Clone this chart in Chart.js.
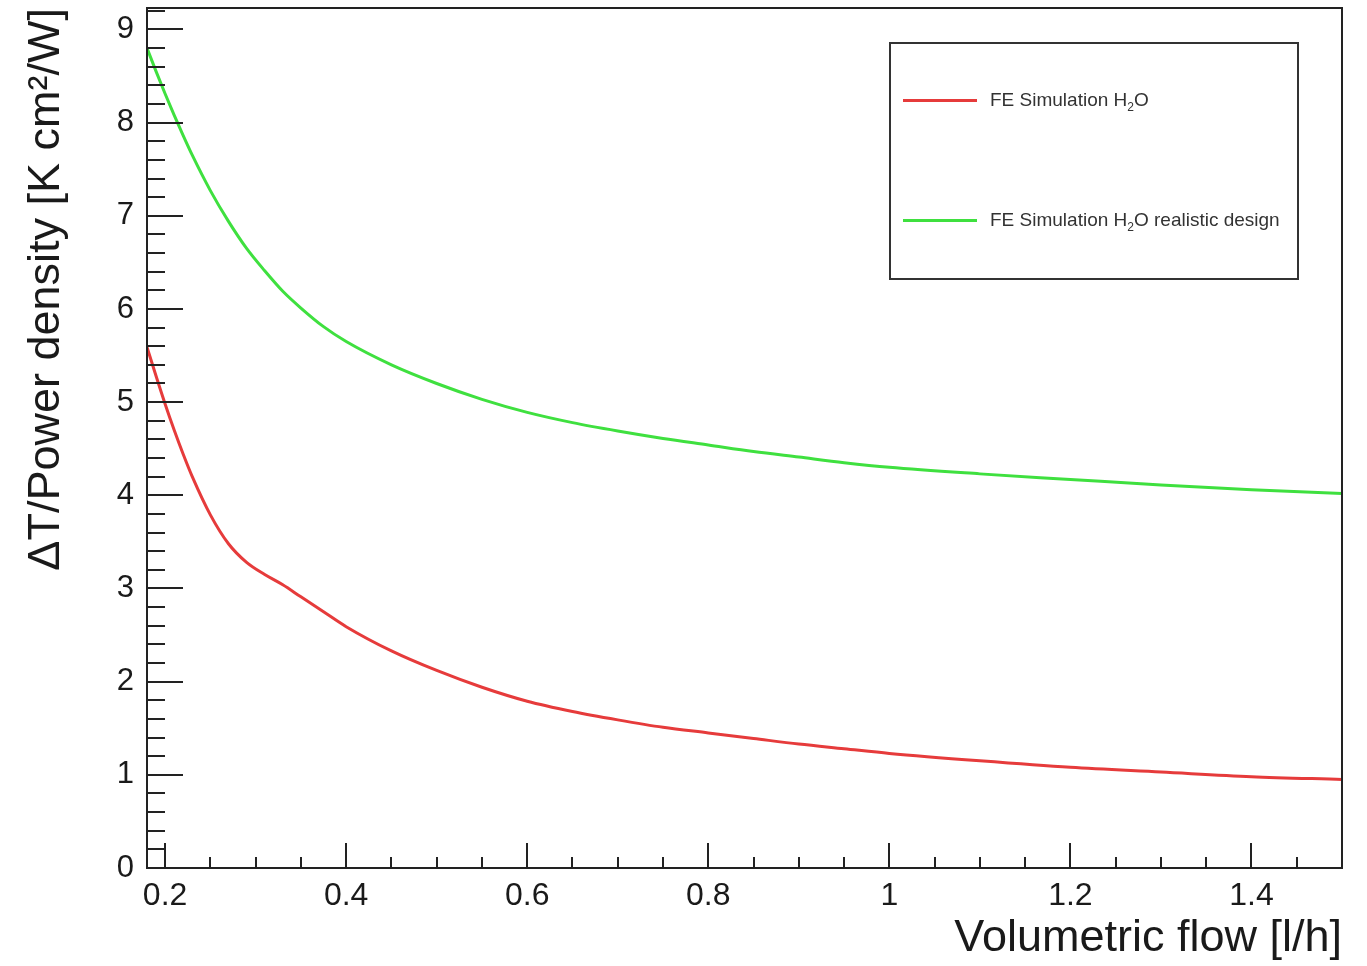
<!DOCTYPE html>
<html>
<head>
<meta charset="utf-8">
<title>Volumetric flow</title>
<script src="https://cdn.jsdelivr.net/npm/chart.js@4.4.1/dist/chart.umd.min.js"></script>
<style>
  html, body { margin: 0; padding: 0; background: #fff; }
  canvas { display: block; }
</style>
</head>
<body>
<canvas id="flowChart" width="1367" height="966"></canvas>
<script>
// flow values [l/h] shared by both simulations
const flow = [0.18, 0.19, 0.2, 0.21, 0.22, 0.23, 0.25, 0.27, 0.29, 0.31, 0.33, 0.35, 0.375,
              0.4, 0.45, 0.5, 0.55, 0.6, 0.65, 0.7, 0.75, 0.8, 0.85, 0.9, 0.95,
              1.0, 1.1, 1.2, 1.3, 1.4, 1.5];

// dT / power density [K cm2/W]
const waterSim = [5.59, 5.28, 4.98, 4.70, 4.44, 4.20, 3.79, 3.48, 3.28, 3.15, 3.04, 2.91, 2.75,
                  2.59, 2.33, 2.12, 1.94, 1.79, 1.68, 1.59, 1.51, 1.45, 1.39, 1.33, 1.28,
                  1.23, 1.15, 1.08, 1.03, 0.98, 0.95];
const waterRealistic = [8.80, 8.55, 8.31, 8.08, 7.86, 7.65, 7.27, 6.94, 6.65, 6.41, 6.19, 6.01, 5.81,
                        5.65, 5.40, 5.20, 5.03, 4.89, 4.78, 4.69, 4.61, 4.54, 4.47, 4.41, 4.35,
                        4.30, 4.23, 4.17, 4.11, 4.06, 4.02];

const seriesNames = ['FE Simulation H₂O', 'FE Simulation H₂O realistic design'];
const seriesColors = ['#e63b3b', '#3fe03f'];

const xTicks = [0.2, 0.4, 0.6, 0.8, 1, 1.2, 1.4];
const yTicks = [0, 1, 2, 3, 4, 5, 6, 7, 8, 9];

const FONT = '"Liberation Sans", Arial, Helvetica, sans-serif';
const INK = '#1a1a1a';

function toPoints(xs, ys) {
  return xs.map((x, i) => ({ x: x, y: ys[i] }));
}

// ROOT style frame with ticks pointing inwards
const frameTicks = {
  id: 'frameTicks',
  afterDraw(chart) {
    const ctx = chart.ctx;
    const a = chart.chartArea;
    const xs = chart.scales.x;
    const ys = chart.scales.y;
    ctx.save();
    ctx.strokeStyle = '#222';
    ctx.lineWidth = 2;
    ctx.strokeRect(a.left, a.top, a.right - a.left, a.bottom - a.top);

    ctx.beginPath();
    // y axis: majors every 1, minors every 0.2
    for (let k = 0; k <= 46; k++) {
      const v = k * 0.2;
      if (v > ys.max) break;
      const py = Math.round(ys.getPixelForValue(v));
      const len = (k % 5 === 0) ? 36 : 18;
      ctx.moveTo(a.left, py);
      ctx.lineTo(a.left + len, py);
    }
    // x axis: majors every 0.2, minors every 0.05
    for (let k = 4; k <= 30; k++) {
      const v = k * 0.05;
      if (v > xs.max + 1e-9) break;
      const px = Math.round(xs.getPixelForValue(v));
      const len = (k % 4 === 0) ? 25 : 11;
      ctx.moveTo(px, a.bottom);
      ctx.lineTo(px, a.bottom - len);
    }
    ctx.stroke();
    ctx.restore();
  }
};

// legend box, H2O with a real subscript
const rootLegend = {
  id: 'rootLegend',
  afterDraw(chart) {
    const ctx = chart.ctx;
    const box = { x: 890, y: 43, w: 408, h: 236 };
    ctx.save();
    ctx.fillStyle = '#fff';
    ctx.fillRect(box.x, box.y, box.w, box.h);
    ctx.strokeStyle = '#333';
    ctx.lineWidth = 2;
    ctx.strokeRect(box.x, box.y, box.w, box.h);

    const rows = [100.5, 220.5];
    chart.data.datasets.forEach((ds, i) => {
      const y = rows[i];
      ctx.strokeStyle = ds.borderColor;
      ctx.lineWidth = 3;
      ctx.beginPath();
      ctx.moveTo(903, y);
      ctx.lineTo(977, y);
      ctx.stroke();

      ctx.fillStyle = '#333';
      ctx.textBaseline = 'middle';
      ctx.textAlign = 'left';
      const parts = ds.label.split('₂');
      let x = 990;
      ctx.font = '19px ' + FONT;
      ctx.fillText(parts[0], x, y);
      x += ctx.measureText(parts[0]).width;
      ctx.font = '12px ' + FONT;
      ctx.fillText('2', x, y + 7);
      x += ctx.measureText('2').width;
      ctx.font = '19px ' + FONT;
      ctx.fillText(parts[1], x, y);
    });
    ctx.restore();
  }
};

new Chart(document.getElementById('flowChart').getContext('2d'), {
  type: 'scatter',
  data: {
    datasets: [
      {
        label: seriesNames[0],
        data: toPoints(flow, waterSim),
        borderColor: seriesColors[0],
        backgroundColor: seriesColors[0],
        borderWidth: 3,
        showLine: true,
        pointRadius: 0,
        cubicInterpolationMode: 'monotone'
      },
      {
        label: seriesNames[1],
        data: toPoints(flow, waterRealistic),
        borderColor: seriesColors[1],
        backgroundColor: seriesColors[1],
        borderWidth: 3,
        showLine: true,
        pointRadius: 0,
        cubicInterpolationMode: 'monotone'
      }
    ]
  },
  options: {
    responsive: false,
    animation: false,
    layout: { padding: { left: 0, right: 25, top: 8, bottom: 0 } },
    plugins: {
      legend: { display: false },
      tooltip: { enabled: false }
    },
    scales: {
      x: {
        type: 'linear',
        min: 0.18,
        max: 1.5,
        afterFit: s => { s.height = 98; s.paddingLeft = 0; s.paddingRight = 0; },
        afterBuildTicks: s => { s.ticks = xTicks.map(v => ({ value: v })); },
        grid: { display: false },
        border: { display: false },
        ticks: {
          autoSkip: false,
          maxRotation: 0,
          padding: 1,
          color: INK,
          font: { family: FONT, size: 32 },
          callback: v => String(v)
        },
        title: {
          display: true,
          text: 'Volumetric flow [l/h]',
          align: 'end',
          color: INK,
          font: { family: FONT, size: 45 },
          padding: { top: -5, bottom: 0 }
        }
      },
      y: {
        type: 'linear',
        min: 0,
        max: 9.23,
        afterFit: s => { s.width = 147; s.paddingTop = 0; s.paddingBottom = 0; },
        afterBuildTicks: s => { s.ticks = yTicks.map(v => ({ value: v })); },
        grid: { display: false },
        border: { display: false },
        ticks: {
          autoSkip: false,
          padding: 5,
          color: INK,
          font: { family: FONT, size: 31 },
          callback: v => String(v)
        },
        title: {
          display: true,
          text: 'ΔT/Power density [K cm²/W]',
          align: 'end',
          color: INK,
          font: { family: FONT, size: 45 },
          padding: { top: 20, bottom: 0 }
        }
      }
    }
  },
  plugins: [frameTicks, rootLegend]
});
</script>
</body>
</html>
